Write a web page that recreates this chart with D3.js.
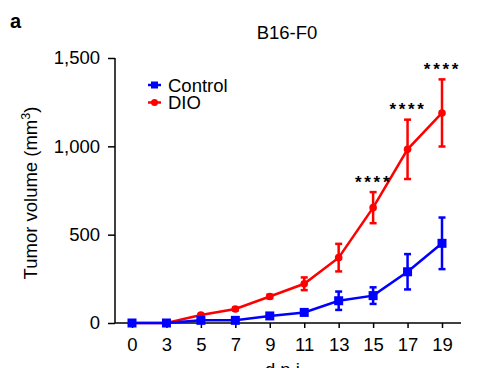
<!DOCTYPE html>
<html>
<head>
<meta charset="utf-8">
<script src="https://cdn.jsdelivr.net/npm/d3@7"></script>
<style>
  body { margin: 0; background: #fff; }
  text { font-family: "Liberation Sans", Arial, sans-serif; }
</style>
</head>
<body>
<div id="chart"></div>
<script>
const days = ['0', '3', '5', '7', '9', '11', '13', '15', '17', '19'];
const controlMean = [0, 0, 15, 15, 40, 60, 126, 155, 290, 451];
const controlErr = [0, 0, 5, 5, 8, 15, 52, 47, 100, 146];
const dioMean = [0, 0, 45, 79, 150, 222, 370, 653, 983, 1189];
const dioErr = [0, 0, 6, 8, 10, 36, 78, 88, 168, 190];
const starDays = ['15', '17', '19'];
const yTicks = [0, 500, 1000, 1500];

const svgWidth = 497;
const svgHeight = 368;

const svg = d3.select('#chart')
  .append('svg')
    .attr('width', svgWidth)
    .attr('height', svgHeight);

const margin = { top: 58, left: 115 };
const innerWidth = 346;
const innerHeight = 265;

const xScale = d3.scalePoint()
    .domain(days)
    .range([17, 327]);

const yScale = d3.scaleLinear()
    .domain([0, 1500])
    .range([innerHeight, 0]);

const g = svg.append('g')
    .attr('transform', `translate(${margin.left},${margin.top})`);

// axes
const xAxisG = g.append('g')
    .attr('transform', `translate(0,${innerHeight})`)
    .call(d3.axisBottom(xScale).tickSize(5).tickPadding(10));
xAxisG.select('.domain').remove();
xAxisG.append('line')
    .attr('x1', 0).attr('x2', innerWidth)
    .attr('stroke', '#000').attr('stroke-width', 1.5);

const yAxisG = g.append('g')
    .call(d3.axisLeft(yScale).tickValues(yTicks).tickSize(7).tickPadding(8)
      .tickFormat(d3.format(',')));
yAxisG.select('.domain').attr('stroke-width', 1.5).attr('d', `M0,0V${innerHeight}`);

[xAxisG, yAxisG].forEach(a => {
  a.attr('font-size', null).attr('font-family', null);
  a.selectAll('.tick line').attr('stroke', '#000').attr('stroke-width', 1.5);
  a.selectAll('.tick text').attr('font-size', 18.5).attr('fill', '#000');
});

// series
const series = [
  { name: 'DIO', color: '#ff0000', mean: dioMean, err: dioErr, shape: 'circle' },
  { name: 'Control', color: '#0000ff', mean: controlMean, err: controlErr, shape: 'square' }
];

series.forEach(s => {
  const pts = days.map((d, i) => ({ d, m: s.mean[i], e: s.err[i] }));
  const sg = g.append('g');

  sg.append('path')
      .datum(pts)
      .attr('fill', 'none')
      .attr('stroke', s.color)
      .attr('stroke-width', 2.5)
      .attr('d', d3.line().x(p => xScale(p.d)).y(p => yScale(p.m)));

  const eb = sg.selectAll('.err').data(pts.filter(p => p.e > 0))
    .enter().append('g')
      .attr('stroke', s.color)
      .attr('stroke-width', 2.5);
  eb.append('line')
      .attr('x1', p => xScale(p.d)).attr('x2', p => xScale(p.d))
      .attr('y1', p => yScale(p.m - p.e)).attr('y2', p => yScale(p.m + p.e));
  eb.append('line')
      .attr('x1', p => xScale(p.d) - 3.5).attr('x2', p => xScale(p.d) + 3.5)
      .attr('y1', p => yScale(p.m + p.e)).attr('y2', p => yScale(p.m + p.e));
  eb.append('line')
      .attr('x1', p => xScale(p.d) - 3.5).attr('x2', p => xScale(p.d) + 3.5)
      .attr('y1', p => yScale(p.m - p.e)).attr('y2', p => yScale(p.m - p.e));

  if (s.shape === 'circle') {
    sg.selectAll('circle').data(pts)
      .enter().append('circle')
        .attr('cx', p => xScale(p.d))
        .attr('cy', p => yScale(p.m))
        .attr('r', 3.8)
        .attr('fill', s.color);
  } else {
    sg.selectAll('rect').data(pts)
      .enter().append('rect')
        .attr('x', p => xScale(p.d) - 4.5)
        .attr('y', p => yScale(p.m) - 4.5)
        .attr('width', 9)
        .attr('height', 9)
        .attr('fill', s.color);
  }
});

// significance stars
g.selectAll('.star').data(starDays)
  .enter().append('text')
    .attr('x', d => xScale(d) + 0.5)
    .attr('y', d => {
      const i = days.indexOf(d);
      return yScale(dioMean[i] + dioErr[i]) - 4.5;
    })
    .attr('text-anchor', 'middle')
    .attr('font-size', 17)
    .attr('font-weight', 'bold')
    .attr('letter-spacing', 2.7)
    .attr('fill', '#000')
    .text('****');

// legend
const legend = g.append('g').attr('transform', 'translate(33,27)');
[series[1], series[0]].forEach((s, i) => {
  const lg = legend.append('g').attr('transform', `translate(0,${i * 17.5})`);
  lg.append('line')
      .attr('x1', 0).attr('x2', 13)
      .attr('stroke', s.color).attr('stroke-width', 2.5);
  if (s.shape === 'circle') {
    lg.append('circle').attr('cx', 6.5).attr('r', 3.5).attr('fill', s.color);
  } else {
    lg.append('rect').attr('x', 3).attr('y', -3.5).attr('width', 7).attr('height', 7)
      .attr('fill', s.color);
  }
  lg.append('text')
      .attr('x', 20).attr('y', 6.5)
      .attr('font-size', 18.5)
      .attr('fill', '#000')
      .text(s.name);
});

// labels
svg.append('text')
    .attr('x', 10).attr('y', 28)
    .attr('font-size', 20).attr('font-weight', 'bold')
    .text('a');

svg.append('text')
    .attr('x', margin.left + innerWidth / 2 - 1).attr('y', 39)
    .attr('text-anchor', 'middle')
    .attr('font-size', 18.5)
    .text('B16-F0');

const yLabel = svg.append('text')
    .attr('transform', `translate(37,${margin.top + 135}) rotate(-90)`)
    .attr('text-anchor', 'middle')
    .attr('font-size', 18.5);
yLabel.append('tspan').text('Tumor volume (mm');
yLabel.append('tspan').attr('dy', -7).attr('font-size', 12.5).text('3');
yLabel.append('tspan').attr('dy', 7).text(')');

svg.append('text')
    .attr('x', margin.left + innerWidth / 2 - 3).attr('y', 376)
    .attr('text-anchor', 'middle')
    .attr('font-size', 18.5)
    .text('d.p.i.');
</script>
</body>
</html>
